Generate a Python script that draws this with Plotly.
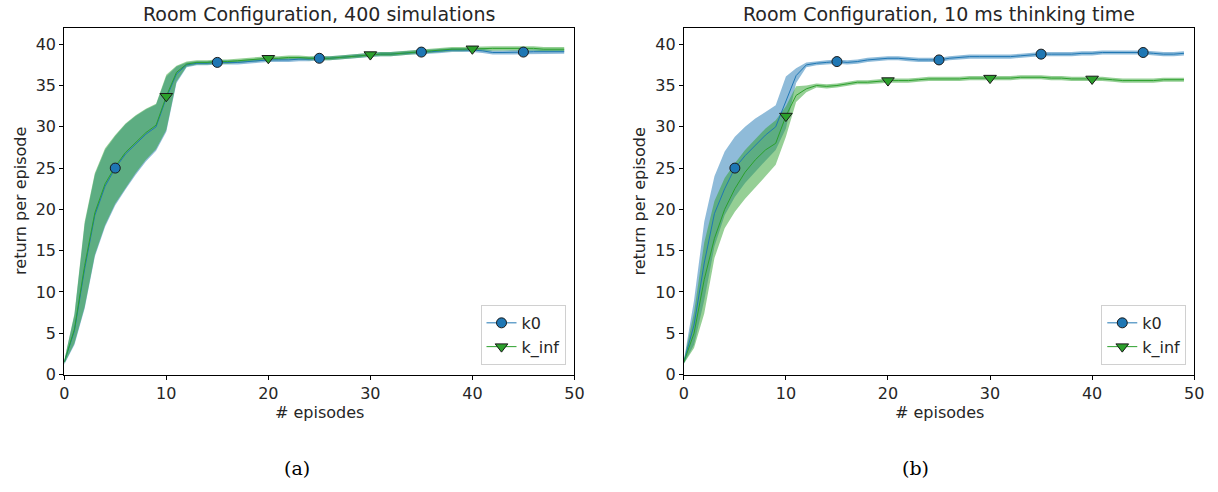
import plotly.graph_objects as go

episodes = list(range(50))

# ---- Panel (a): 400 simulations ----
a_k0_mean = [1.5, 5.3, 12.8, 19.3, 22.8, 25.0, 26.7, 27.9, 29.1, 30.0, 33.5, 36.4, 37.5, 37.7, 37.7,
             37.8, 37.8, 37.8, 37.9, 38.0, 38.1, 38.1, 38.1, 38.2, 38.2, 38.3, 38.3, 38.4, 38.5, 38.6,
             38.7, 38.8, 38.8, 38.9, 39.0, 39.05, 39.1, 39.2, 39.3, 39.3, 39.3, 39.2, 39.0, 39.0, 39.0,
             39.05, 39.1, 39.1, 39.1, 39.1]
a_k0_hi = [1.7, 7.2, 18.2, 24.2, 27.2, 28.9, 30.3, 31.3, 32.1, 32.7, 36.1, 37.3, 37.8]
a_k0_lo = [1.2, 3.6, 8.0, 14.3, 17.9, 20.5, 22.4, 24.2, 25.8, 27.1, 29.4, 35.3, 37.2]
a_kinf_mean = [1.5, 5.5, 13.2, 19.6, 23.1, 25.2, 26.9, 28.1, 29.3, 30.2, 33.7, 36.6, 37.6, 37.8, 37.8,
               37.9, 37.9, 38.0, 38.1, 38.2, 38.3, 38.3, 38.4, 38.4, 38.3, 38.3, 38.3, 38.4, 38.5, 38.6,
               38.75, 38.8, 38.8, 38.9, 39.0, 39.1, 39.2, 39.3, 39.4, 39.4, 39.45, 39.5, 39.5, 39.5, 39.5,
               39.5, 39.5, 39.4, 39.4, 39.4]
a_kinf_hi = [1.7, 7.4, 18.5, 24.4, 27.4, 29.0, 30.4, 31.4, 32.2, 32.8, 36.3, 37.4, 37.9]
a_kinf_lo = [1.3, 3.8, 8.2, 14.5, 18.1, 20.7, 22.6, 24.4, 26.0, 27.3, 29.6, 35.5, 37.3]

# ---- Panel (b): 10 ms thinking time ----
b_k0_mean = [1.5, 6.0, 13.5, 19.5, 22.5, 25.0, 26.5, 27.8, 29.0, 30.0, 33.2, 36.2, 37.5, 37.7, 37.8,
             37.9, 37.8, 37.9, 38.1, 38.2, 38.3, 38.3, 38.2, 38.1, 38.1, 38.1, 38.3, 38.4, 38.5, 38.5,
             38.5, 38.5, 38.5, 38.6, 38.7, 38.8, 38.8, 38.8, 38.8, 38.9, 38.9, 39.0, 39.0, 39.0, 39.0,
             39.0, 38.9, 38.8, 38.8, 38.9]
b_k0_hi = [1.7, 9.0, 18.5, 24.0, 27.0, 28.8, 30.0, 31.0, 31.8, 32.6, 36.1, 37.1, 37.8]
b_k0_lo = [1.3, 3.6, 9.0, 15.5, 19.3, 21.5, 23.2, 24.6, 25.9, 27.2, 29.8, 35.3, 37.2]
b_kinf_mean = [1.5, 5.0, 11.5, 16.5, 20.0, 22.5, 24.5, 26.0, 27.2, 28.0, 31.3, 33.8, 34.6, 35.0, 34.9,
               35.0, 35.2, 35.4, 35.4, 35.5, 35.6, 35.6, 35.6, 35.7, 35.8, 35.8, 35.8, 35.8, 35.9, 35.9,
               35.9, 35.9, 35.9, 36.0, 36.0, 36.0, 35.9, 35.9, 35.8, 35.8, 35.8, 35.8, 35.7, 35.6, 35.6,
               35.6, 35.6, 35.7, 35.7, 35.7]
b_kinf_hi = [1.7, 7.5, 16.0, 21.0, 23.8, 25.6, 27.2, 28.5, 29.8, 30.8, 32.5, 34.9, 35.0]
b_kinf_lo = [1.3, 3.2, 7.4, 14.1, 17.7, 19.7, 21.3, 22.7, 24.0, 25.4, 28.8, 33.0, 34.2]

late_spread = 0.25  # half-width of band after the listed early values

titles = ["Room Configuration, 400 simulations", "Room Configuration, 10 ms thinking time"]
captions = ["(a)", "(b)"]
x_ticks = [0, 10, 20, 30, 40, 50]
y_ticks = [0, 5, 10, 15, 20, 25, 30, 35, 40]
k0_marks = [5, 15, 25, 35, 45]
kinf_marks = [10, 20, 30, 40]

BLUE = "#1f77b4"
GREEN = "#2ca02c"
BLUE_FILL = "rgba(31,119,180,0.5)"
GREEN_FILL = "rgba(44,160,44,0.5)"
TXT = "#262626"

W, H = 1218, 492
def px(x):
    return x / W
def py(y):
    return 1 - y / H

domains_x = [(px(60), px(576.5)), (px(687.3), px(1204))]
domain_y = (py(382.3), py(28.3))


def band(mean, hi, lo):
    n = len(hi)
    upper = hi + [m + late_spread for m in mean[n:]]
    lower = lo + [m - late_spread for m in mean[n:]]
    return upper, lower


fig = go.Figure()

panels = [
    (a_k0_mean, a_k0_hi, a_k0_lo, a_kinf_mean, a_kinf_hi, a_kinf_lo),
    (b_k0_mean, b_k0_hi, b_k0_lo, b_kinf_mean, b_kinf_hi, b_kinf_lo),
]

for i, (k0m, k0h, k0l, kim, kih, kil) in enumerate(panels):
    xa = "x" if i == 0 else "x2"
    ya = "y" if i == 0 else "y2"
    legend_name = "legend" if i == 0 else "legend2"
    k0u, k0d = band(k0m, k0h, k0l)
    kiu, kid = band(kim, kih, kil)
    # bands
    fig.add_trace(go.Scatter(x=episodes + episodes[::-1], y=k0u + k0d[::-1], fill="toself",
                             fillcolor=BLUE_FILL, line=dict(width=0), mode="lines",
                             hoverinfo="skip", showlegend=False, xaxis=xa, yaxis=ya))
    fig.add_trace(go.Scatter(x=episodes + episodes[::-1], y=kiu + kid[::-1], fill="toself",
                             fillcolor=GREEN_FILL, line=dict(width=0), mode="lines",
                             hoverinfo="skip", showlegend=False, xaxis=xa, yaxis=ya))
    # lines
    fig.add_trace(go.Scatter(x=episodes, y=k0m, mode="lines", line=dict(color=BLUE, width=1),
                             showlegend=False, xaxis=xa, yaxis=ya))
    fig.add_trace(go.Scatter(x=episodes, y=kim, mode="lines", line=dict(color=GREEN, width=1),
                             showlegend=False, xaxis=xa, yaxis=ya))
    # markers
    fig.add_trace(go.Scatter(x=k0_marks, y=[k0m[j] for j in k0_marks], mode="markers",
                             marker=dict(symbol="circle", size=10, color=BLUE,
                                         line=dict(color="#1a1a1a", width=1)),
                             showlegend=False, xaxis=xa, yaxis=ya))
    fig.add_trace(go.Scatter(x=kinf_marks, y=[kim[j] for j in kinf_marks], mode="markers",
                             marker=dict(symbol="triangle-down", size=11, color=GREEN,
                                         line=dict(color="#1a1a1a", width=1)),
                             showlegend=False, xaxis=xa, yaxis=ya))
    # legend entries
    fig.add_trace(go.Scatter(x=[None], y=[None], mode="lines+markers", name="k0",
                             line=dict(color=BLUE, width=1),
                             marker=dict(symbol="circle", size=10, color=BLUE,
                                         line=dict(color="#1a1a1a", width=1)),
                             legend=legend_name, xaxis=xa, yaxis=ya))
    fig.add_trace(go.Scatter(x=[None], y=[None], mode="lines+markers", name="k_inf",
                             line=dict(color=GREEN, width=1),
                             marker=dict(symbol="triangle-down", size=11, color=GREEN,
                                         line=dict(color="#1a1a1a", width=1)),
                             legend=legend_name, xaxis=xa, yaxis=ya))

axis_common = dict(showgrid=False, zeroline=False, showline=True, linecolor="black", linewidth=1,
                   mirror=True, ticks="outside", ticklen=4, tickcolor="black", tickwidth=1,
                   tickfont=dict(family="DejaVu Sans", size=16, color=TXT))

legend_style = dict(xanchor="right", yanchor="bottom",
                    bgcolor="rgba(255,255,255,0.85)", bordercolor="#d0d0d0", borderwidth=1,
                    font=dict(family="DejaVu Sans", size=16, color=TXT), tracegroupgap=0,
                    itemwidth=30)

fig.update_layout(
    width=W, height=H,
    margin=dict(l=0, r=0, t=0, b=0),
    paper_bgcolor="white", plot_bgcolor="white",
    xaxis=dict(domain=domains_x[0], range=[0, 50], tickvals=x_ticks, anchor="y", **axis_common),
    yaxis=dict(domain=domain_y, range=[0, 42], tickvals=y_ticks, anchor="x", **axis_common),
    xaxis2=dict(domain=domains_x[1], range=[0, 50], tickvals=x_ticks, anchor="y2", **axis_common),
    yaxis2=dict(domain=domain_y, range=[0, 42], tickvals=y_ticks, anchor="x2", **axis_common),
    legend=dict(x=px(567.5), y=py(372.5), **legend_style),
    legend2=dict(x=px(1196), y=py(372.5), **legend_style),
)

annotations = []
for i in range(2):
    cx = (domains_x[i][0] + domains_x[i][1]) / 2
    annotations.append(dict(text=titles[i], x=cx, y=py(14), xref="paper", yref="paper",
                            showarrow=False, xanchor="center", yanchor="middle",
                            font=dict(family="DejaVu Sans", size=19, color=TXT)))
    annotations.append(dict(text="# episodes", x=cx, y=py(421), xref="paper", yref="paper",
                            showarrow=False, xanchor="center", yanchor="middle",
                            font=dict(family="DejaVu Sans", size=16, color=TXT)))
    annotations.append(dict(text="return per episode", x=domains_x[i][0] - px(45),
                            y=(domain_y[0] + domain_y[1]) / 2, xref="paper", yref="paper",
                            showarrow=False, xanchor="center", yanchor="middle", textangle=-90,
                            font=dict(family="DejaVu Sans", size=16, color=TXT)))
    annotations.append(dict(text=captions[i], x=px(296 if i == 0 else 922), y=py(478),
                            xref="paper", yref="paper", showarrow=False,
                            xanchor="center", yanchor="middle",
                            font=dict(family="DejaVu Serif", size=19, color="black")))
fig.update_layout(annotations=annotations)

fig.write_html("out.html")
